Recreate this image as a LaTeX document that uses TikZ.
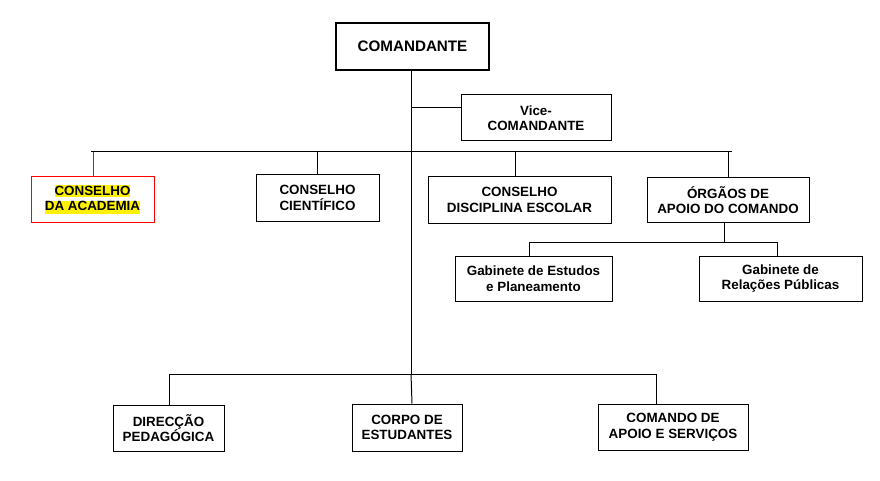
\documentclass[tikz,border=0pt]{standalone}
\usepackage{fontspec}
\setmainfont{Liberation Sans}
\usepackage{xcolor}
\begin{document}
\begin{tikzpicture}[x=1pt,y=-1pt,
  box/.style={draw=black, line width=1pt, inner sep=0pt, align=center,
    font=\fontsize{13.4}{15.5}\selectfont\bfseries},
  link/.style={draw=black, line width=1pt},
  redlink/.style={draw=red, line width=1pt}]
\useasboundingbox (0,0) rectangle (880,481);
\fill[white] (0,0) rectangle (880,481);
% nodes
\node[box, line width=2.5pt, minimum width=153pt, minimum height=47pt,
  font=\fontsize{15.2}{17}\selectfont\bfseries] (cmd) at (412.5,46.5) {COMANDANTE};
\node[box, minimum width=150pt, minimum height=46pt] (vice) at (536,118) {Vice-\\COMANDANTE};
\node[box, draw=red, minimum width=123pt, minimum height=45pt] (acad) at (92.5,199.5)
  {\setlength{\fboxsep}{0pt}\colorbox{yellow}{\rule[-2pt]{0pt}{12pt}CONSELHO}\\
   \setlength{\fboxsep}{0pt}\colorbox{yellow}{\rule[-3.5pt]{0pt}{12pt}DA ACADEMIA}};
\node[box, minimum width=123pt, minimum height=46pt] (cient) at (317.5,198) {CONSELHO\\CIENTÍFICO};
\node[box, minimum width=183pt, minimum height=46pt] (disc) at (519.5,200) {CONSELHO\\DISCIPLINA ESCOLAR};
\node[box, minimum width=162pt, minimum height=44pt] (org) at (728,200) {ÓRGÃOS DE\\APOIO DO COMANDO};
\node[box, minimum width=157pt, minimum height=45pt] (gest) at (533.5,278.5) {Gabinete de Estudos\\e Planeamento};
\node[box, minimum width=163pt, minimum height=45pt] (grel) at (780.5,278.5) {Gabinete de\\Relações Públicas};
\node[box, minimum width=111pt, minimum height=46pt] (dir) at (168.5,428) {DIRECÇÃO\\PEDAGÓGICA};
\node[box, minimum width=110pt, minimum height=47pt] (corpo) at (407,427.5) {CORPO DE\\ESTUDANTES};
\node[box, minimum width=150pt, minimum height=46pt] (coma) at (673,427) {COMANDO DE\\APOIO E SERVIÇOS};
% junction coordinates
\coordinate (trunkTop) at (411,70);
\coordinate (viceJ) at (411,107.5);
\coordinate (busL) at (91,152);
\coordinate (busR) at (732,152);
\coordinate (trunkBot) at (411,374);
\coordinate (bbusL) at (169,374);
\coordinate (bbusR) at (656,374);
\coordinate (orgJ) at (724,242);
\coordinate (gJL) at (529,242);
\coordinate (gJR) at (777,242);
% connectors
\draw[link] (cmd.south -| trunkTop) -- (trunkBot);
\draw[link] (viceJ) -- (vice.west |- viceJ);
\draw[link] (busL) -- (busR);
\draw[redlink] (acad.north -| 93,0) -- ++(0,-24.5);
\draw[link] (cient.north) -- (cient.north |- busL);
\draw[link] (disc.north -| 515,0) -- ++(0,-24.5);
\draw[link] (org.north) -- (org.north |- busL);
\draw[link] (org.south -| orgJ) -- (orgJ);
\draw[link] (gJL) -- (gJR);
\draw[link] (gJL) -- (gest.north -| gJL);
\draw[link] (gJR) -- (grel.north -| gJR);
\draw[link] (bbusL) -- (bbusR);
\draw[link] (bbusL) -- (dir.north -| bbusL);
\draw[link] (trunkBot) -- (corpo.north -| 412,0);
\draw[link] (bbusR) -- (coma.north -| bbusR);
\end{tikzpicture}
\end{document}
